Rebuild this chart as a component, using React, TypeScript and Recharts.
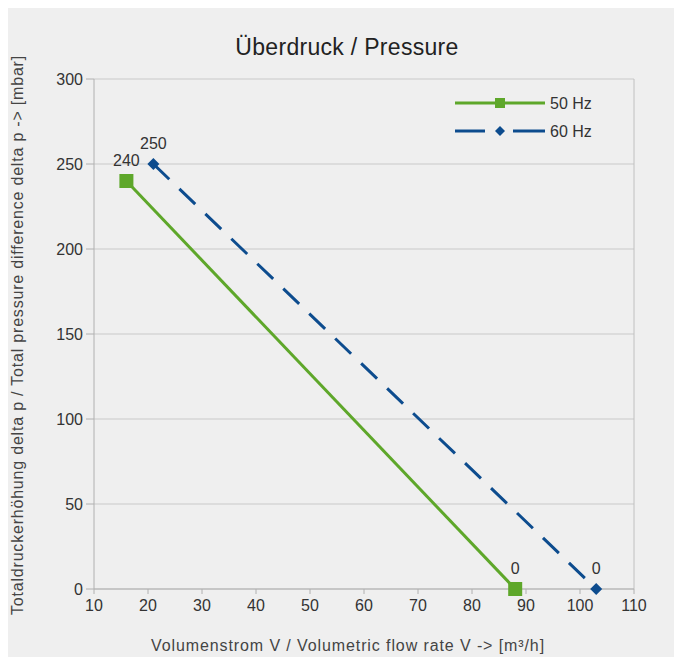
import React from 'react';
import { LineChart, Line, XAxis, YAxis, CartesianGrid, ReferenceLine, LabelList } from 'recharts';

const xTicks = [10, 20, 30, 40, 50, 60, 70, 80, 90, 100, 110];
const yTicks = [0, 50, 100, 150, 200, 250, 300];
const hz50Flow = [16, 88];
const hz50Pressure = [240, 0];
const hz60Flow = [21, 103];
const hz60Pressure = [250, 0];
const seriesNames = ['50 Hz', '60 Hz'];

const title = 'Überdruck / Pressure';
const xTitle = 'Volumenstrom V / Volumetric flow rate V -> [m³/h]';
const yTitle = 'Totaldruckerhöhung delta p / Total pressure difference delta p -> [mbar]';

const GREEN = '#5ea72a';
const BLUE = '#0d4c8e';
const FONT = '"Liberation Sans", Arial, sans-serif';

const data50 = hz50Flow.map((x, i) => ({ x, y: hz50Pressure[i] }));
const data60 = hz60Flow.map((x, i) => ({ x, y: hz60Pressure[i] }));

const SquareDot = (props: any) => {
  const { cx, cy, index } = props;
  return <rect key={'s' + index} x={cx - 7} y={cy - 7} width={14} height={14} fill={GREEN} />;
};

const DiamondDot = (props: any) => {
  const { cx, cy, index } = props;
  const r = 6;
  return (
    <path
      key={'d' + index}
      d={`M${cx},${cy - r} L${cx + r},${cy} L${cx},${cy + r} L${cx - r},${cy} Z`}
      fill={BLUE}
    />
  );
};

export default function App() {
  return (
    <div style={{ position: 'relative', width: 674, height: 649, background: '#efefef', fontFamily: FONT }}>
      <LineChart
        width={674}
        height={649}
        margin={{ top: 71, right: 48, bottom: 0, left: 0 }}
        style={{ fontFamily: FONT }}
      >
        <CartesianGrid vertical={false} stroke="#c9c9c9" strokeWidth={1} />
        <XAxis
          type="number"
          dataKey="x"
          domain={[10, 110]}
          ticks={xTicks}
          allowDataOverflow
          height={68}
          stroke="#b0b0b0"
          tickSize={5}
          tickMargin={6}
          tick={{ fill: '#333', fontSize: 16 }}
        />
        <YAxis
          type="number"
          dataKey="y"
          domain={[0, 300]}
          ticks={yTicks}
          width={86}
          stroke="#b0b0b0"
          tickSize={8}
          tickMargin={3}
          tick={{ fill: '#333', fontSize: 16 }}
        />
        <ReferenceLine x={110} stroke="#c0c0c0" />
        <Line
          data={data50}
          dataKey="y"
          name={seriesNames[0]}
          stroke={GREEN}
          strokeWidth={3}
          dot={SquareDot}
          activeDot={false}
          isAnimationActive={false}
        >
          <LabelList dataKey="y" position="top" offset={15} fill="#333" fontSize={16} />
        </Line>
        <Line
          data={data60}
          dataKey="y"
          name={seriesNames[1]}
          stroke={BLUE}
          strokeWidth={3}
          strokeDasharray="22 14"
          dot={DiamondDot}
          activeDot={false}
          isAnimationActive={false}
        >
          <LabelList dataKey="y" position="top" offset={15} fill="#333" fontSize={16} />
        </Line>
      </LineChart>
      <svg
        width={674}
        height={649}
        style={{ position: 'absolute', left: 0, top: 0, pointerEvents: 'none' }}
      >
        <text x={339} y={47} textAnchor="middle" fontSize={23} letterSpacing={0.3} fill="#222" fontFamily={FONT}>
          {title}
        </text>
        <text x={340} y={643} textAnchor="middle" fontSize={16} letterSpacing={0.9} fill="#444" fontFamily={FONT}>
          {xTitle}
        </text>
        <text
          x={0}
          y={0}
          transform="translate(15,327) rotate(-90)"
          textAnchor="middle"
          fontSize={16}
          letterSpacing={0.8}
          fill="#444"
          fontFamily={FONT}
        >
          {yTitle}
        </text>
        <g transform="translate(447,88)">
          <line x1={0} y1={7} x2={90} y2={7} stroke={GREEN} strokeWidth={3} />
          <rect x={40} y={2} width={10} height={10} fill={GREEN} />
          <text x={95} y={13} fontSize={16} fill="#333" fontFamily={FONT}>{seriesNames[0]}</text>
          <line x1={0} y1={35} x2={30} y2={35} stroke={BLUE} strokeWidth={3} />
          <line x1={58} y1={35} x2={90} y2={35} stroke={BLUE} strokeWidth={3} />
          <path d="M45,30 L50,35 L45,40 L40,35 Z" fill={BLUE} />
          <text x={95} y={41} fontSize={16} fill="#333" fontFamily={FONT}>{seriesNames[1]}</text>
        </g>
      </svg>
    </div>
  );
}
